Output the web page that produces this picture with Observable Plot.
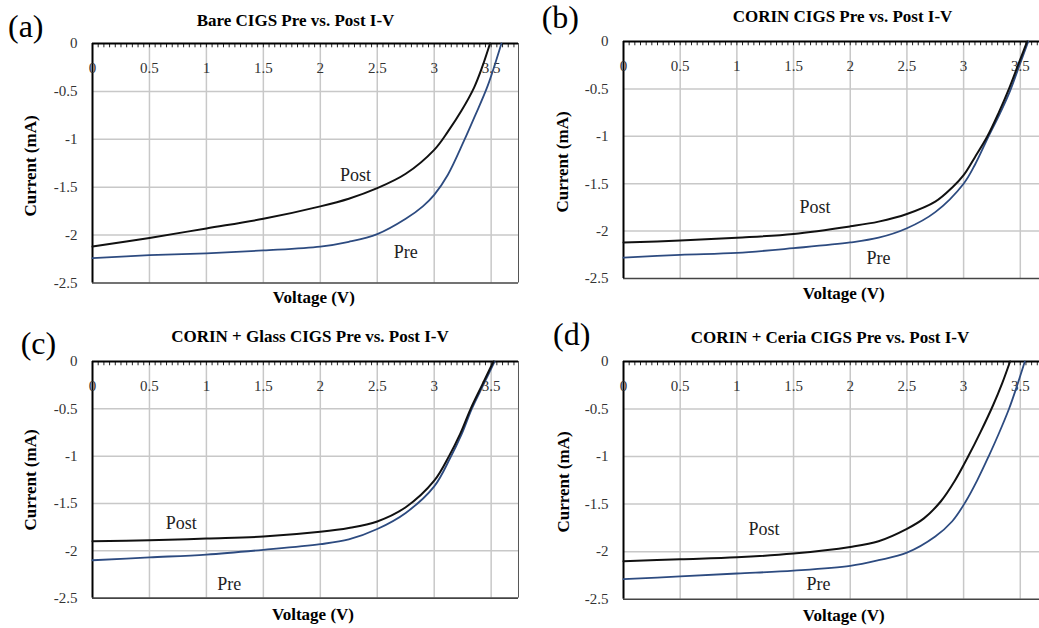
<!DOCTYPE html>
<html><head><meta charset="utf-8">
<script src="https://cdn.jsdelivr.net/npm/d3@7"></script>
<script src="https://cdn.jsdelivr.net/npm/@observablehq/plot@0.6"></script>
<style>
html,body{margin:0;padding:0;background:#fff;overflow:hidden;}
#wrap{position:relative;width:1039px;height:628px;overflow:hidden;font-family:"Liberation Serif","Times New Roman",serif;}
.t{position:absolute;white-space:nowrap;line-height:1;color:#000;}
.b{font-weight:bold;}
.c{transform:translateX(-50%);}
.r{transform:translate(-50%,-50%) rotate(-90deg);}
svg{position:absolute;overflow:visible;}
</style></head><body><div id="wrap"></div>
<script>
// ---- data ----
const xTicks = [0, 0.5, 1, 1.5, 2, 2.5, 3, 3.5];
const yTicks = [0, -0.5, -1, -1.5, -2, -2.5];
const minorTicks = d3.range(0, 75).map(i => +(i * 0.05).toFixed(2));

const titles = ["Bare CIGS Pre vs. Post I-V", "CORIN CIGS Pre vs. Post I-V",
  "CORIN + Glass CIGS Pre vs. Post I-V", "CORIN + Ceria CIGS Pre vs. Post I-V"];
const panelLetters = ["(a)", "(b)", "(c)", "(d)"];
const seriesNames = ["Post", "Pre"];

// (a) Bare
const aPostV = [0, 0.5, 1, 1.5, 2, 2.25, 2.5, 2.75, 3, 3.12, 3.24, 3.35, 3.42, 3.49];
const aPostI = [-2.12, -2.03, -1.93, -1.83, -1.70, -1.62, -1.51, -1.36, -1.11, -0.92, -0.70, -0.46, -0.25, 0];
const aPreV  = [0, 0.5, 1, 1.5, 2, 2.25, 2.5, 2.75, 2.9, 3, 3.12, 3.26, 3.36, 3.47, 3.59];
const aPreI  = [-2.24, -2.21, -2.19, -2.16, -2.12, -2.07, -1.99, -1.83, -1.70, -1.58, -1.37, -1.02, -0.75, -0.44, 0];
// (b) CORIN
const bPostV = [0, 0.5, 1, 1.5, 2, 2.25, 2.5, 2.75, 2.9, 3, 3.1, 3.21, 3.31, 3.4, 3.48, 3.56];
const bPostI = [-2.12, -2.10, -2.07, -2.03, -1.95, -1.90, -1.82, -1.69, -1.54, -1.41, -1.22, -1.0, -0.75, -0.5, -0.25, 0];
const bPreV  = [0, 0.5, 1, 1.5, 2, 2.25, 2.5, 2.75, 3, 3.1, 3.22, 3.32, 3.41, 3.49, 3.57];
const bPreI  = [-2.28, -2.25, -2.23, -2.18, -2.12, -2.07, -1.97, -1.80, -1.50, -1.30, -1.0, -0.76, -0.52, -0.26, 0];
// (c) CORIN + Glass
const cPostV = [0, 0.5, 1, 1.5, 2, 2.25, 2.5, 2.75, 3, 3.13, 3.23, 3.32, 3.42, 3.52];
const cPostI = [-1.90, -1.89, -1.87, -1.85, -1.80, -1.76, -1.69, -1.54, -1.26, -1.0, -0.76, -0.5, -0.25, 0];
const cPreV  = [0, 0.5, 1, 1.5, 2, 2.25, 2.5, 2.75, 3, 3.14, 3.24, 3.33, 3.43, 3.53];
const cPreI  = [-2.10, -2.07, -2.04, -1.99, -1.93, -1.88, -1.77, -1.60, -1.32, -1.02, -0.77, -0.5, -0.25, 0];
// (d) CORIN + Ceria
const dPostV = [0, 0.5, 1, 1.5, 2, 2.25, 2.5, 2.65, 2.8, 2.92, 3.04, 3.15, 3.26, 3.34, 3.41];
const dPostI = [-2.10, -2.08, -2.06, -2.02, -1.95, -1.89, -1.76, -1.65, -1.47, -1.26, -1.0, -0.74, -0.46, -0.23, 0];
const dPreV  = [0, 0.5, 1, 1.5, 2, 2.25, 2.5, 2.75, 2.9, 3.02, 3.12, 3.22, 3.31, 3.40, 3.47, 3.54];
const dPreI  = [-2.29, -2.26, -2.23, -2.20, -2.15, -2.09, -2.01, -1.84, -1.68, -1.47, -1.25, -1.0, -0.76, -0.5, -0.26, 0];

// label positions (data coords) for "Post", "Pre"
const postLabelV = [2.31, 1.69, 0.78, 1.24];
const postLabelI = [-1.37, -1.75, -1.71, -1.76];
const preLabelV  = [2.75, 2.25, 1.20, 1.72];
const preLabelI  = [-2.18, -2.29, -2.35, -2.34];

// ---- layout ----
const panels = [
  {post: [aPostV, aPostI], pre: [aPreV, aPreI], left: 0, top: 0, ml: 92, mt: 43, w: 426, h: 239.5,
   title: [295.5, 12.4], letter: [8, 10.3], ytitle: [30, 166], xtitle: [313.8, 288.7]},
  {post: [bPostV, bPostI], pre: [bPreV, bPreI], left: 520, top: 0, ml: 103, mt: 41, w: 424, h: 237,
   title: [842.5, 8.4], letter: [541.7, 0.5], ytitle: [562, 161.7], xtitle: [843.7, 284.7]},
  {post: [cPostV, cPostI], pre: [cPreV, cPreI], left: 0, top: 310, ml: 92, mt: 51, w: 426, h: 236.6,
   title: [310, 328.4], letter: [20.7, 327.2], ytitle: [30, 480], xtitle: [313, 605.7]},
  {post: [dPostV, dPostI], pre: [dPreV, dPreI], left: 520, top: 310, ml: 103, mt: 51, w: 424, h: 237.7,
   title: [830, 329], letter: [553, 318.3], ytitle: [562.5, 481.7], xtitle: [843.7, 607.4]}
];

const wrap = document.getElementById("wrap");
const xMax = 3.74;

panels.forEach((p, i) => {
  const post = p.post[0].map((v, k) => ({V: v, I: p.post[1][k]}));
  const pre = p.pre[0].map((v, k) => ({V: v, I: p.pre[1][k]}));
  const labels = [
    {V: postLabelV[i], I: postLabelI[i], s: seriesNames[0]},
    {V: preLabelV[i], I: preLabelI[i], s: seriesNames[1]}
  ];
  const chart = Plot.plot({
    width: p.ml + p.w + 2,
    height: p.mt + p.h + 20,
    marginLeft: p.ml, marginTop: p.mt, marginRight: 2, marginBottom: 20,
    style: {fontFamily: "'Liberation Serif', 'Times New Roman', serif", background: "transparent", overflow: "visible"},
    x: {domain: [0, xMax], axis: null},
    y: {domain: [-2.5, 0]},
    marks: [
      Plot.gridX(xTicks.filter(d => d > 0), {stroke: "#c8c8c8", strokeOpacity: 1, strokeWidth: 1.5}),
      Plot.gridY(yTicks.filter(d => d < 0 && d > -2.5), {stroke: "#c8c8c8", strokeOpacity: 1, strokeWidth: 1.5}),
      Plot.ruleX(minorTicks, {x: d => d, y1: 0, y2: -0.045, stroke: "#222", strokeWidth: 1}),
      Plot.ruleY([-2.5], {stroke: "#444", strokeWidth: 1.6}),
      Plot.ruleX([xMax], {stroke: "#555", strokeWidth: 1}),
      Plot.ruleY([0], {stroke: "#000", strokeWidth: 2}),
      Plot.ruleX([0], {stroke: "#000", strokeWidth: 2}),
      Plot.axisY({ticks: yTicks, tickSize: 0, tickPadding: 15, tickFormat: d => String(d),
        fontSize: 15, fill: "#333", label: null}),
      Plot.text(xTicks, {x: d => d, frameAnchor: "top", dy: 19, text: d => String(d), fontSize: 15, fill: "#333"}),
      Plot.line(pre, {x: "V", y: "I", stroke: "#2d4b80", strokeWidth: 1.8, curve: "catmull-rom"}),
      Plot.line(post, {x: "V", y: "I", stroke: "#111", strokeWidth: 2, curve: "catmull-rom"}),
      Plot.text(labels, {x: "V", y: "I", text: "s", fontSize: 18, fill: "#222"})
    ]
  });
  chart.style.left = p.left + "px";
  chart.style.top = p.top + "px";
  wrap.appendChild(chart);

  const mk = (txt, cls, x, y, fs) => {
    const d = document.createElement("div");
    d.className = "t " + cls;
    d.textContent = txt;
    d.style.left = x + "px";
    d.style.top = y + "px";
    d.style.fontSize = fs + "px";
    wrap.appendChild(d);
  };
  mk(titles[i], "b c", p.title[0], p.title[1], 17);
  mk(panelLetters[i], "", p.letter[0], p.letter[1], 32);
  mk("Current (mA)", "b r", p.ytitle[0], p.ytitle[1], 17);
  mk("Voltage (V)", "b c", p.xtitle[0], p.xtitle[1], 17);
});
</script></body></html>
